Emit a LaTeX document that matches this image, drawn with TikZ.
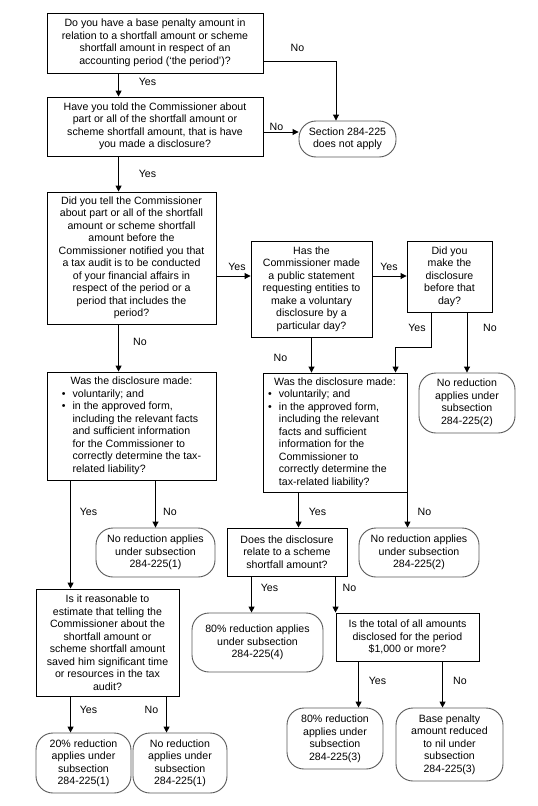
\documentclass[tikz,border=0pt]{standalone}
\usepackage{fontspec}
\setmainfont{Liberation Sans}
\usetikzlibrary{arrows.meta}
\tikzstyle{question} = [rectangle, draw=black, line width=0.9pt, inner sep=0pt, align=center]
\tikzstyle{outcome} = [rectangle, rounded corners=17pt, draw=black!65, line width=0.9pt, inner sep=0pt, align=center]
\tikzstyle{arrow} = [line width=0.9pt, -{Triangle[length=6pt,width=6pt]}]
\tikzstyle{lbl} = [inner sep=0pt]
\renewcommand{\arraystretch}{1}

\begin{document}
\begin{tikzpicture}[x=1pt, y=-1pt, font=\fontsize{10.6}{12.5}\selectfont]
\path[fill=white] (0,0) rectangle (538,806);
\node (q1) [question, minimum width=216pt, minimum height=60pt] at (155,43) {Do you have a base penalty amount in\\relation to a shortfall amount or scheme\\shortfall amount in respect of an\\accounting period (‘the period’)?};
\node (q2) [question, minimum width=216pt, minimum height=59pt] at (155,126.5) {Have you told the Commissioner about\\part or all of the shortfall amount or\\scheme shortfall amount, that is have\\you made a disclosure?};
\node (sec) [outcome, minimum width=97pt, minimum height=36pt] at (347.5,139) {Section 284-225\\does not apply};
\node (q3) [question, minimum width=169pt, minimum height=132pt] at (131.5,258) {Did you tell the Commissioner\\about part or all of the shortfall\\amount or scheme shortfall\\amount before the\\Commissioner notified you that\\a tax audit is to be conducted\\of your financial affairs in\\respect of the period or a\\period that includes the\\period?};
\node (q4) [question, minimum width=121pt, minimum height=96pt] at (311.5,289) {Has the\\Commissioner made\\a public statement\\requesting entities to\\make a voluntary\\disclosure by a\\particular day?};
\node (q5) [question, minimum width=85pt, minimum height=71pt] at (449.5,276.5) {Did you\\make the\\disclosure\\before that\\day?};
\node (q6) [question, minimum width=169pt, minimum height=108pt] at (131.5,426) {\begin{tabular}{@{}l@{\hspace{7pt}}l@{}}
\multicolumn{2}{c}{Was the disclosure made:}\\
\textbullet & voluntarily; and\\
\textbullet & in the approved form,\\
 & including the relevant facts\\
 & and sufficient information\\
 & for the Commissioner to\\
 & correctly determine the tax-\\
 & related liability?
\end{tabular}};
\node (q7) [question, minimum width=144pt, minimum height=119pt] at (335,432.5) {\begin{tabular}{@{}l@{\hspace{7pt}}l@{}}
\multicolumn{2}{c}{Was the disclosure made:}\\
\textbullet & voluntarily; and\\
\textbullet & in the approved form,\\
 & including the relevant\\
 & facts and sufficient\\
 & information for the\\
 & Commissioner to\\
 & correctly determine the\\
 & tax-related liability?
\end{tabular}};
\node (nr2a) [outcome, minimum width=96pt, minimum height=60pt] at (467,403) {No reduction\\applies under\\subsection\\284-225(2)};
\node (nr1a) [outcome, minimum width=119pt, minimum height=49pt] at (155.5,552.5) {No reduction applies\\under subsection\\284-225(1)};
\node (q8) [question, minimum width=120pt, minimum height=48pt] at (287,552) {Does the disclosure\\relate to a scheme\\shortfall amount?};
\node (nr2b) [outcome, minimum width=120pt, minimum height=49pt] at (419,552.5) {No reduction applies\\under subsection\\284-225(2)};
\node (q10) [question, minimum width=143pt, minimum height=107pt] at (107.5,642.5) {Is it reasonable to\\estimate that telling the\\Commissioner about the\\shortfall amount or\\scheme shortfall amount\\saved him significant time\\or resources in the tax\\audit?};
\node (nr4) [outcome, minimum width=131pt, minimum height=59pt] at (257.5,642.5) {80\% reduction applies\\under subsection\\284-225(4)};
\node (q9) [question, minimum width=143pt, minimum height=48pt] at (407.5,637) {Is the total of all amounts\\disclosed for the period\\\$1,000 or more?};
\node (r20) [outcome, minimum width=95pt, minimum height=60pt] at (83.5,763) {20\% reduction\\applies under\\subsection\\284-225(1)};
\node (nr1b) [outcome, minimum width=94pt, minimum height=60pt] at (180,763) {No reduction\\applies under\\subsection\\284-225(1)};
\node (nr3a) [outcome, minimum width=96pt, minimum height=61pt] at (335,738.5) {80\% reduction\\applies under\\subsection\\284-225(3)};
\node (nr3b) [outcome, minimum width=107pt, minimum height=73pt] at (449.5,744.5) {Base penalty\\amount reduced\\to nil under\\subsection\\284-225(3)};
% connectors
\draw [arrow] ([xshift=72pt]q1.south west) -- ([xshift=72pt]q2.north west);
\draw [arrow] ([yshift=-18pt]q1.east) -| ([xshift=-11.5pt]sec.north);
\draw [arrow] ([yshift=-5.5pt]q2.east) -- ([yshift=-5.5pt]q2.east -| sec.west);
\draw [arrow] ([xshift=72pt]q2.south west) -- ([xshift=72pt]q3.north west);
\draw [arrow] ([yshift=-18pt]q3.east) -- ([yshift=-18pt]q3.east -| q4.west);
\draw [arrow] ([yshift=13pt]q4.east) -- ([yshift=13pt]q4.east -| q5.west);
\draw [arrow] ([xshift=25pt]q5.south west) |- ([xshift=133pt,yshift=25pt]q7.north west) -- ([xshift=133pt]q7.north west);
\draw [arrow] (q5.south -| nr2a.north) -- (nr2a.north);
\draw [arrow] (q4.south) -- (q4.south |- q7.north);
\draw [arrow] ([xshift=72pt]q3.south west) -- ([xshift=72pt]q6.north west);
\draw [arrow] ([xshift=24pt]q6.south west) -- ([xshift=24pt]q6.south west |- q10.north);
\draw [arrow] (q6.south -| nr1a.north) -- (nr1a.north);
\draw [arrow] ([xshift=36pt]q7.south west) -- ([xshift=36pt]q7.south west |- q8.north);
\draw [arrow] (q7.south east) -- (q7.south east |- nr2b.north);
\draw [arrow] ([xshift=25pt]q8.south west) -- ([xshift=25pt]q8.south west |- nr4.north);
\draw [arrow] (q8.south -| q9.north west) -- (q9.north west);
\draw [arrow] ([xshift=23pt]q9.south west) -- ([xshift=23pt]q9.south west |- nr3a.north);
\draw [arrow] ([xshift=107pt]q9.south west) -- ([xshift=107pt]q9.south west |- nr3b.north);
\draw [arrow] ([xshift=35pt]q10.south west) -- ([xshift=35pt]q10.south west |- r20.north);
\draw [arrow] ([xshift=131pt]q10.south west) -- ([xshift=131pt]q10.south west |- nr1b.north);
% labels
\node (y1) [lbl] at (147.5,82) {Yes};
\node (n1) [lbl] at (297.5,48) {No};
\node (n2) [lbl] at (276.5,127) {No};
\node (y2) [lbl] at (147.5,174) {Yes};
\node (y3) [lbl] at (237,267) {Yes};
\node (y4) [lbl] at (389,267) {Yes};
\node (y5) [lbl] at (417,328) {Yes};
\node (n5) [lbl] at (490,328) {No};
\node (n4) [lbl] at (280.5,358) {No};
\node (n3) [lbl] at (140,342) {No};
\node (y6) [lbl] at (88.5,512) {Yes};
\node (n6) [lbl] at (170,512) {No};
\node (y7) [lbl] at (317.5,512) {Yes};
\node (n7) [lbl] at (424.5,512) {No};
\node (y8) [lbl] at (269.5,588) {Yes};
\node (n8) [lbl] at (349.5,588) {No};
\node (y9) [lbl] at (377.5,681) {Yes};
\node (n9) [lbl] at (460,681) {No};
\node (y10) [lbl] at (88.5,710) {Yes};
\node (n10) [lbl] at (151.5,710) {No};
\end{tikzpicture}
\end{document}
